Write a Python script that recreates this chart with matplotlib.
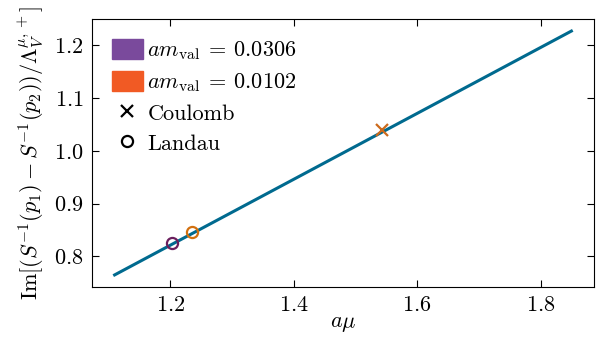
import matplotlib
matplotlib.use("Agg")
import matplotlib.pyplot as plt
from matplotlib.patches import Patch
from matplotlib.lines import Line2D

plt.rcParams.update({
    "font.family": "serif",
    "font.serif": ["cmr10"],
    "mathtext.fontset": "cm",
    "axes.formatter.use_mathtext": True,
    "font.size": 16,
    "xtick.direction": "in",
    "ytick.direction": "in",
    "xtick.top": True,
    "ytick.right": True,
    "xtick.major.size": 5,
    "ytick.major.size": 5,
    "axes.unicode_minus": False,
})

# Fitted curve
fit_amu = [1.11, 1.85]
fit_val = [0.765, 1.227]

# Individual ensembles
landau_amu = [1.203, 1.235]
landau_val = [0.826, 0.847]
landau_colors = ["#6a1f5e", "#d2700f"]

coulomb_amu = [1.543]
coulomb_val = [1.040]
coulomb_colors = ["#cc6a1c"]

legend_masses = ["0.0306", "0.0102"]
legend_colors = ["#7a4a9c", "#f15a24"]

fig, ax = plt.subplots(figsize=(5.96, 3.37), dpi=100)
fig.subplots_adjust(left=0.154, right=0.997, top=0.944, bottom=0.148)

ax.plot(fit_amu, fit_val, color="#006a8f", lw=2.2, zorder=2)
for x, y, c in zip(landau_amu, landau_val, landau_colors):
    ax.plot(x, y, marker="o", ms=8, mfc="none", mec=c, mew=1.6, ls="none", zorder=3)
for x, y, c in zip(coulomb_amu, coulomb_val, coulomb_colors):
    ax.plot(x, y, marker="x", ms=8, mec=c, mew=1.6, ls="none", zorder=3)

ax.set_xticks([1.2, 1.4, 1.6, 1.8])
ax.set_yticks([0.8, 0.9, 1.0, 1.1, 1.2])
ax.tick_params(labelsize=16, pad=6)
ax.set_xlabel(r"$a\mu$", labelpad=0)
ax.set_ylabel(r"$\mathrm{Im}[(S^{-1}(p_1) - S^{-1}(p_2))/\Lambda_V^{\mu,+}]$", labelpad=6)

handles = [Patch(color=c, label=r"$am_{\mathrm{val}}\:=\:%s$" % m)
           for m, c in zip(legend_masses, legend_colors)]
handles += [
    Line2D([], [], marker="x", color="black", ls="none", ms=8, mew=1.6, label="Coulomb"),
    Line2D([], [], marker="o", mfc="none", mec="black", ls="none", ms=8, mew=1.6, label="Landau"),
]
ax.legend(handles=handles, loc="upper left", frameon=False, handlelength=1.4,
          handleheight=1.0, handletextpad=0.2, labelspacing=0.38, borderaxespad=0.5,
          fontsize=16)

fig.savefig("out.png", dpi=100)
